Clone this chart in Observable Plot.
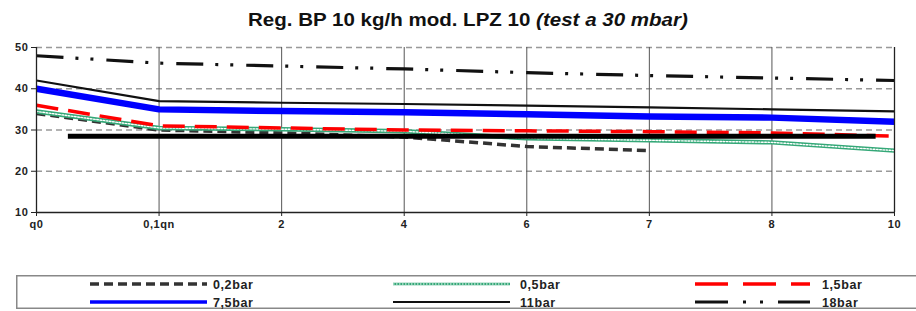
<!DOCTYPE html>
<html><head><meta charset="utf-8">
<script src="https://cdn.jsdelivr.net/npm/d3@7"></script>
<script src="https://cdn.jsdelivr.net/npm/@observablehq/plot@0.6"></script>
<style>
body{margin:0;background:#fff;font-family:"Liberation Sans",Arial,sans-serif;width:916px;height:311px;position:relative;overflow:hidden}
#title{position:absolute;top:10px;left:10px;width:916px;text-align:center;font-size:18px;font-weight:bold;color:#111}
#title span{display:inline-block;transform:scaleX(1.14);white-space:nowrap}
#chart{position:absolute;top:38px;left:0}
#legend{position:absolute;left:16px;top:275px}
</style></head><body>
<div id="title"><span>Reg. BP 10 kg/h mod. LPZ 10 <i>(test a 30 mbar)</i></span></div>
<div id="chart"></div>
<div id="legend"></div>
<script>
const categories = ["q0", "0,1qn", "2", "4", "6", "7", "8", "10"];
const seriesNames = ["0,2bar", "0,5bar", "1,5bar", "7,5bar", "11bar", "18bar"];
const v02 = [34, 30, 29.3, 28.3, 26, 25, null, null];
const v05 = [34.5, 30.5, 30.2, 29.7, 28, 27.5, 27, 25];
const v15 = [36, 31, 30.5, 30, 29.8, 29.6, 29.3, 28.5];
const v75 = [40, 35, 34.6, 34.3, 33.8, 33.3, 33, 32];
const v11 = [42, 37, 36.6, 36.3, 35.9, 35.5, 35, 34.5];
const v18 = [48, 46.2, 45.5, 44.8, 43.9, 43.2, 42.6, 42];
const refLine = [{start: 0.26, end: 6.85, value: 28.5}];
const yTicks = [10, 20, 30, 40, 50];

const seriesValues = [v02, v05, v15, v75, v11, v18];
const styles = {
  "0,2bar": {stroke: "#333", strokeWidth: 3.5, strokeDasharray: "9,5"},
  "0,5bar": {stroke: "#35a878", strokeWidth: 4.5, overlay: true},
  "1,5bar": {stroke: "#ff0000", strokeWidth: 3.5, strokeDasharray: "22,10"},
  "7,5bar": {stroke: "#0000ff", strokeWidth: 6.5},
  "11bar": {stroke: "#111", strokeWidth: 2.2},
  "18bar": {stroke: "#111", strokeWidth: 3.2, strokeDasharray: "27,12,3,12,3,13"}
};

const data = seriesNames.flatMap((s, k) =>
  seriesValues[k].map((v, i) => ({series: s, i, v})).filter(d => d.v != null));

function seriesMarks(s) {
  const st = styles[s];
  const rows = data.filter(d => d.series === s);
  const m = [Plot.line(rows, {x: "i", y: "v", stroke: st.stroke, strokeWidth: st.strokeWidth,
    strokeDasharray: st.strokeDasharray, strokeLinecap: "butt", strokeLinejoin: "round"})];
  if (st.overlay) m.push(Plot.line(rows, {x: "i", y: "v", stroke: "#fff", strokeWidth: 1.4, strokeDasharray: "1.6,1.6"}));
  return m;
}

const n = categories.length;
const plot = Plot.plot({
  width: 916, height: 200,
  marginTop: 9, marginBottom: 26, marginLeft: 36, marginRight: 22,
  style: {fontFamily: "'Liberation Sans', Arial, sans-serif", fontSize: "11px", fontWeight: "bold", color: "#222", letterSpacing: "0.6px", overflow: "visible"},
  x: {domain: [0, n - 1]},
  y: {domain: [10, 50]},
  marks: [
    Plot.ruleY(yTicks.filter(t => t > 10), {stroke: "#999", strokeWidth: 1.5, strokeDasharray: "6,4"}),
    Plot.ruleX(d3.range(1, n - 1), {stroke: "#555", strokeWidth: 1}),
    ...seriesMarks("0,2bar"),
    ...seriesMarks("0,5bar"),
    ...seriesMarks("1,5bar"),
    Plot.ruleY(refLine, {y: "value", x1: "start", x2: "end", stroke: "#000", strokeWidth: 5}),
    ...seriesMarks("7,5bar"),
    ...seriesMarks("11bar"),
    ...seriesMarks("18bar"),
    Plot.ruleX([0, n - 1], {stroke: "#222", strokeWidth: 1.3}),
    Plot.ruleY([10], {stroke: "#222", strokeWidth: 1.3}),
    Plot.axisY({ticks: yTicks, tickSize: 5, tickPadding: 3, label: null}),
    Plot.axisX({ticks: d3.range(n), tickFormat: i => categories[i], tickSize: 4, tickPadding: 4, label: null})
  ]
});
document.getElementById("chart").appendChild(plot);

// legend
const lw = 920, lh = 34;
const lsvg = d3.select("#legend").append("svg").attr("width", lw).attr("height", lh);
lsvg.append("rect").attr("x", 0.75).attr("y", 0.75).attr("width", lw).attr("height", lh - 1.5)
  .attr("fill", "none").attr("stroke", "#888").attr("stroke-width", 1.5);
const cols = [{x0: 74, x1: 191, tx: 197}, {x0: 377, x1: 494, tx: 504}, {x0: 679, x1: 794, tx: 806}];
const rowsY = [9, 27];
seriesNames.forEach((s, k) => {
  const c = cols[k % 3], y = rowsY[Math.floor(k / 3)], st = styles[s];
  lsvg.append("line").attr("x1", c.x0).attr("x2", c.x1).attr("y1", y).attr("y2", y)
    .attr("stroke", st.stroke).attr("stroke-width", s === "0,5bar" ? 2.5 : Math.min(st.strokeWidth, 3.5))
    .attr("stroke-dasharray", s === "1,5bar" ? "33,15" : s === "18bar" ? "33,15,3,14,3,15" : st.strokeDasharray || null);
  if (st.overlay) lsvg.append("line").attr("x1", c.x0).attr("x2", c.x1).attr("y1", y).attr("y2", y)
    .attr("stroke", "#fff").attr("stroke-width", 1).attr("stroke-dasharray", "1.5,1.5");
  lsvg.append("text").attr("x", c.tx).attr("y", y + 4.5).text(s)
    .attr("font-size", 12.5).attr("font-weight", "bold").attr("fill", "#222").attr("letter-spacing", "0.6px")
    .attr("font-family", "'Liberation Sans', Arial, sans-serif");
});
</script>
</body></html>
